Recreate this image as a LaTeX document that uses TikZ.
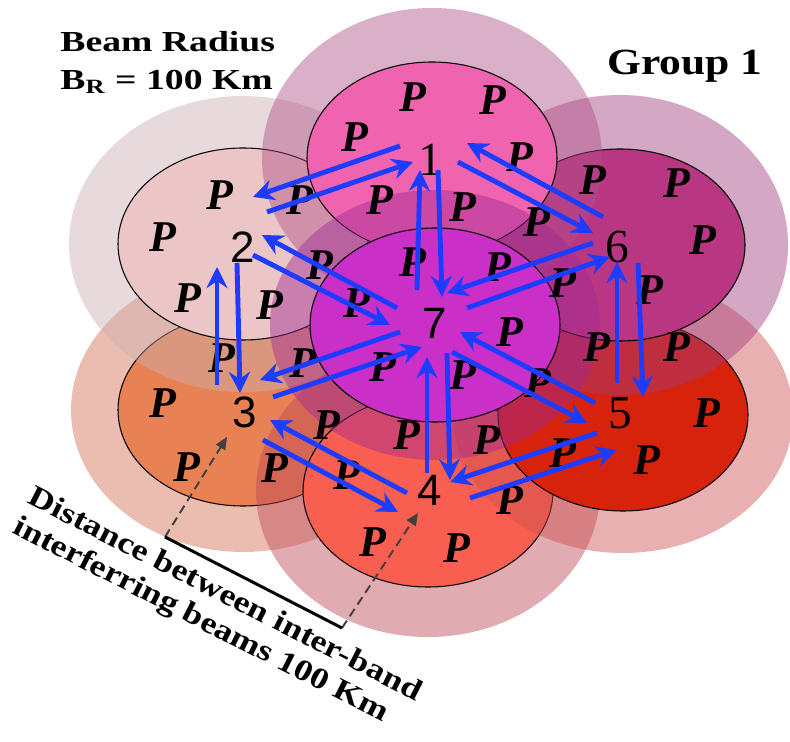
\documentclass[tikz,border=0pt]{standalone}
\usepackage{graphicx}
\usepackage{fontspec}
\setmainfont{Liberation Serif}
\newfontfamily\numfont{Liberation Sans}
\usetikzlibrary{arrows.meta,calc}

\definecolor{pinkA}{RGB}{240,100,175}
\definecolor{roseB}{RGB}{236,198,198}
\definecolor{orangeC}{RGB}{232,130,85}
\definecolor{coralD}{RGB}{248,95,80}
\definecolor{redE}{RGB}{215,35,12}
\definecolor{plumF}{RGB}{185,55,130}
\definecolor{magentaG}{RGB}{202,48,200}
\definecolor{haloA}{RGB}{175,80,135}
\definecolor{haloB}{RGB}{205,175,178}
\definecolor{haloC}{RGB}{212,110,80}
\definecolor{haloD}{RGB}{190,70,85}
\definecolor{haloE}{RGB}{205,80,80}
\definecolor{haloF}{RGB}{160,60,125}
\definecolor{haloG}{RGB}{160,40,150}
\definecolor{linkblue}{RGB}{30,60,255}

\begin{document}
\begin{tikzpicture}[x=0.02cm,y=-0.02cm,>=Stealth,
  every node/.style={inner sep=0pt},
  beam/.style={draw=black,line width=.6pt},
  halo/.style={fill opacity=.45},
  plabel/.style={font=\fontsize{25}{30}\selectfont\bfseries\itshape},
  num/.style={font=\numfont\fontsize{25}{30}\selectfont},
  snum/.style={font=\fontsize{27}{30}\selectfont},
  link/.style={draw=linkblue,line width=2.8pt,-{Stealth[length=12pt,width=12pt,inset=4pt]}},
  gap/.style={draw=black!75,line width=1.1pt,dash pattern=on 5pt off 3pt,-{Triangle[length=7pt,width=6pt]}},
  head/.style={font=\fontsize{16.5}{21.5}\selectfont\bfseries}]
\useasboundingbox (0,0) rectangle (790,742);
\fill[white] (0,0) rectangle (790,742);
% beams with their halos
\fill[haloC,halo] (243,410) ellipse [x radius=172,y radius=142];
\draw[beam,fill=orangeC] (243,410) ellipse [x radius=125,y radius=96];
\fill[haloB,halo] (243,244) ellipse [x radius=174,y radius=148];
\draw[beam,fill=roseB] (243,244) ellipse [x radius=125,y radius=96];
\fill[haloD,halo] (428,491) ellipse [x radius=172,y radius=146];
\draw[beam,fill=coralD] (428,491) ellipse [x radius=125,y radius=96];
\fill[haloE,halo] (623,415) ellipse [x radius=170,y radius=138];
\draw[beam,fill=redE] (623,415) ellipse [x radius=125,y radius=96];
\fill[haloF,halo] (620,245) ellipse [x radius=168,y radius=150];
\draw[beam,fill=plumF] (620,245) ellipse [x radius=125,y radius=96];
\fill[haloA,halo] (432,158) ellipse [x radius=170,y radius=150];
\draw[beam,fill=pinkA] (432,158) ellipse [x radius=125,y radius=96];
\fill[haloG,halo] (435,325) ellipse [x radius=165,y radius=135];
\draw[beam,fill=magentaG] (435,325) ellipse [x radius=125,y radius=97];
% P labels
\node[plabel] (p1) at (413,97) {P};
\node[plabel] (p2) at (493,100) {P};
\node[plabel] (p3) at (355,137) {P};
\node[plabel] (p4) at (520,157) {P};
\node[plabel] (p5) at (380,200) {P};
\node[plabel] (p6) at (463,207) {P};
\node[plabel] (p7) at (220,195) {P};
\node[plabel] (p8) at (300,200) {P};
\node[plabel] (p9) at (163,237) {P};
\node[plabel] (p10) at (320,265) {P};
\node[plabel] (p11) at (188,298) {P};
\node[plabel] (p12) at (270,305) {P};
\node[plabel] (p13) at (593,180) {P};
\node[plabel] (p14) at (677,183) {P};
\node[plabel] (p15) at (537,222) {P};
\node[plabel] (p16) at (703,240) {P};
\node[plabel] (p17) at (563,283) {P};
\node[plabel] (p18) at (650,290) {P};
\node[plabel] (p19) at (413,262) {P};
\node[plabel] (p20) at (498,267) {P};
\node[plabel] (p21) at (357,303) {P};
\node[plabel] (p22) at (510,332) {P};
\node[plabel] (p23) at (303,363) {P};
\node[plabel] (p24) at (383,367) {P};
\node[plabel] (p25) at (463,375) {P};
\node[plabel] (p26) at (538,383) {P};
\node[plabel] (p27) at (222,358) {P};
\node[plabel] (p28) at (163,403) {P};
\node[plabel] (p29) at (327,425) {P};
\node[plabel] (p30) at (187,467) {P};
\node[plabel] (p31) at (275,468) {P};
\node[plabel] (p32) at (347,475) {P};
\node[plabel] (p33) at (407,435) {P};
\node[plabel] (p34) at (487,440) {P};
\node[plabel] (p35) at (510,500) {P};
\node[plabel] (p36) at (373,542) {P};
\node[plabel] (p37) at (457,548) {P};
\node[plabel] (p38) at (597,347) {P};
\node[plabel] (p39) at (677,347) {P};
\node[plabel] (p40) at (707,413) {P};
\node[plabel] (p41) at (563,453) {P};
\node[plabel] (p42) at (647,460) {P};
% beam numbers
\node[snum] (n1) at (430,160) {1};
\node[num] (n2) at (243,247) {2};
\node[num] (n3) at (245,412) {3};
\node[num] (n4) at (430,490) {4};
\node[snum] (n5) at (620,413) {5};
\node[snum] (n6) at (617,247) {6};
\node[num] (n7) at (435,323) {7};
% links between beams
\draw[link] ([shift={(-30,-14)}]n1.center) -- ([shift={(10,-50)}]n2.center);
\draw[link] ([shift={(24,-35)}]n2.center) -- ([shift={(-17,2)}]n1.center);
\draw[link] ([shift={(-18,-33)}]n7.center) -- ([shift={(-10,10)}]n1.center);
\draw[link] ([shift={(8,10)}]n1.center) -- ([shift={(7,-26)}]n7.center);
\draw[link] ([shift={(-14,-30)}]n6.center) -- ([shift={(37,-17)}]n1.center);
\draw[link] ([shift={(28,2)}]n1.center) -- ([shift={(-24,-14)}]n6.center);
\draw[link] ([shift={(-24,-4)}]n6.center) -- ([shift={(12,-30)}]n7.center);
\draw[link] ([shift={(32,-15)}]n7.center) -- ([shift={(-7,10)}]n6.center);
\draw[link] ([shift={(-3,-30)}]n5.center) -- ([shift={(0,15)}]n6.center);
\draw[link] ([shift={(21,16)}]n6.center) -- ([shift={(23,-16)}]n5.center);
\draw[link] ([shift={(-25,-10)}]n5.center) -- ([shift={(25,9)}]n7.center);
\draw[link] ([shift={(17,29)}]n7.center) -- ([shift={(-33,10)}]n5.center);
\draw[link] ([shift={(-23,20)}]n5.center) -- ([shift={(20,-8)}]n4.center);
\draw[link] ([shift={(40,8)}]n4.center) -- ([shift={(-3,37)}]n5.center);
\draw[link] ([shift={(-3,-17)}]n4.center) -- ([shift={(-8,34)}]n7.center);
\draw[link] ([shift={(12,30)}]n7.center) -- ([shift={(20,-10)}]n4.center);
\draw[link] ([shift={(-23,3)}]n4.center) -- ([shift={(25,8)}]n3.center);
\draw[link] ([shift={(18,28)}]n3.center) -- ([shift={(-32,22)}]n4.center);
\draw[link] ([shift={(-35,9)}]n7.center) -- ([shift={(15,-32)}]n3.center);
\draw[link] ([shift={(28,-15)}]n3.center) -- ([shift={(-13,24)}]n7.center);
\draw[link] ([shift={(-28,-27)}]n3.center) -- ([shift={(-26,20)}]n2.center);
\draw[link] ([shift={(-6,16)}]n2.center) -- ([shift={(-5,-19)}]n3.center);
\draw[link] ([shift={(-38,-15)}]n7.center) -- ([shift={(19,-12)}]n2.center);
\draw[link] ([shift={(10,8)}]n2.center) -- ([shift={(-45,2)}]n7.center);
% distance marker
\coordinate (gapa) at (165,537);
\coordinate (gapb) at (342,628);
\draw[gap] (gapa) -- ([shift={(-18,25)}]n3.center);
\draw[gap] (gapb) -- ([shift={(-12,23)}]n4.center);
\draw[line width=1.7pt] (gapa) -- (gapb);
% texts
\node[head,xscale=1.3,anchor=north west,align=left] (radius) at (60,31) {Beam Radius\\B\textsubscript{R} = 100 Km};
\node[head,font=\fontsize{21}{25}\selectfont\bfseries,xscale=1.18,anchor=west] (group) at (607,66) {Group 1};
\node[head,font=\fontsize{17}{19}\selectfont\bfseries,rotate=-27,anchor=north west,align=left] (gaptext) at (36,484) {\scalebox{1.2}[1]{Distance between inter-band}\\\scalebox{1.2}[1]{interferring beams 100 Km}};
\end{tikzpicture}
\end{document}
